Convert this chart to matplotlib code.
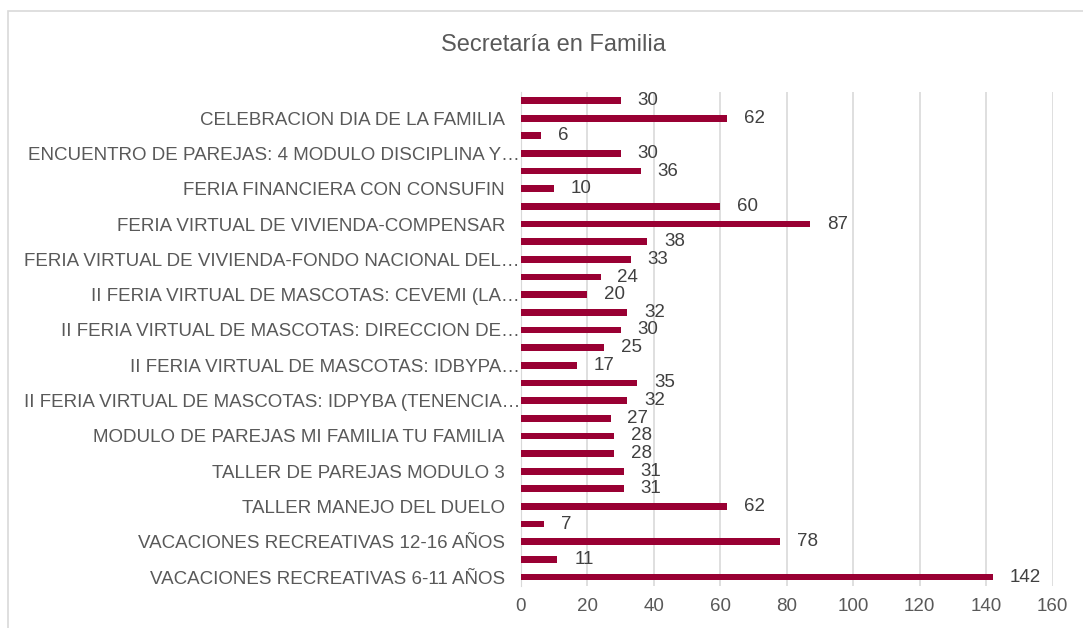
import numpy as np
from matplotlib import pyplot as plt
from matplotlib.transforms import ScaledTranslation

plt.rcParams['font.family'] = ['Liberation Sans', 'DejaVu Sans']

# valores de arriba hacia abajo (28 barras, solo se ve una etiqueta de cada dos)
valores = [30, 62, 6, 30, 36, 10, 60, 87, 38, 33, 24, 20, 32, 30,
           25, 17, 35, 32, 27, 28, 28, 31, 31, 62, 7, 78, 11, 142]
etiquetas = [
    "", "CELEBRACION DIA DE LA FAMILIA",
    "", "ENCUENTRO DE PAREJAS: 4 MODULO DISCIPLINA Y…",
    "", "FERIA FINANCIERA CON CONSUFIN",
    "", "FERIA VIRTUAL DE VIVIENDA-COMPENSAR",
    "", "FERIA VIRTUAL DE VIVIENDA-FONDO NACIONAL DEL…",
    "", "II FERIA VIRTUAL DE MASCOTAS: CEVEMI (LA…",
    "", "II FERIA VIRTUAL DE MASCOTAS: DIRECCION DE…",
    "", "II FERIA VIRTUAL DE MASCOTAS: IDBYPA…",
    "", "II FERIA VIRTUAL DE MASCOTAS: IDPYBA (TENENCIA…",
    "", "MODULO DE PAREJAS MI FAMILIA TU FAMILIA",
    "", "TALLER DE PAREJAS MODULO 3",
    "", "TALLER MANEJO DEL DUELO",
    "", "VACACIONES RECREATIVAS 12-16 AÑOS",
    "", "VACACIONES RECREATIVAS 6-11 AÑOS",
]
x_ticks = [0, 20, 40, 60, 80, 100, 120, 140, 160]

gris = '#595959'
color_barra = '#990033'

fig = plt.figure(figsize=(10.83, 6.28), dpi=100)
ax = fig.add_axes([0.481, 0.067, 0.491, 0.787])

y = np.arange(len(valores))
ax.barh(y, valores, height=0.38, color=color_barra, zorder=3)

for yi, v in zip(y, valores):
    ax.annotate(str(v), (v, yi), xytext=(12, 0), textcoords='offset points',
                ha='left', va='center', fontsize=13.5, color='#404040')

ax.set_yticks(y)
ax.set_yticklabels(etiquetas, fontsize=13.5, color=gris)
ax.tick_params(axis='y', length=0, pad=11.5)
ax.set_ylim(len(valores) - 0.5, -0.5)

# las etiquetas recortadas con "…" llegan hasta el eje, como en Excel
for lbl in ax.get_yticklabels():
    if lbl.get_text().endswith("…"):
        lbl.set_transform(lbl.get_transform() + ScaledTranslation(0.15, 0, fig.dpi_scale_trans))

ax.set_xlim(0, 160)
ax.set_xticks(x_ticks)
ax.set_xticklabels([str(t) for t in x_ticks], fontsize=13.5, color=gris)
ax.tick_params(axis='x', length=0, pad=9)
ax.grid(axis='x', color='#D9D9D9', linewidth=1.2, zorder=0)

for s in ['top', 'right', 'bottom']:
    ax.spines[s].set_visible(False)
ax.spines['left'].set_color('#D9D9D9')

fig.text(0.511, 0.928, "Secretaría en Familia", ha='center', va='center',
         fontsize=17, color=gris)

# marco del gráfico (sigue fuera de la imagen a la derecha y abajo)
marco = plt.Rectangle((0.007, -0.05), 1.1, 1.033, transform=fig.transFigure,
                      fill=False, edgecolor='#D9D9D9', linewidth=1.2)
fig.patches.append(marco)

plt.savefig('out.png', dpi=100)
